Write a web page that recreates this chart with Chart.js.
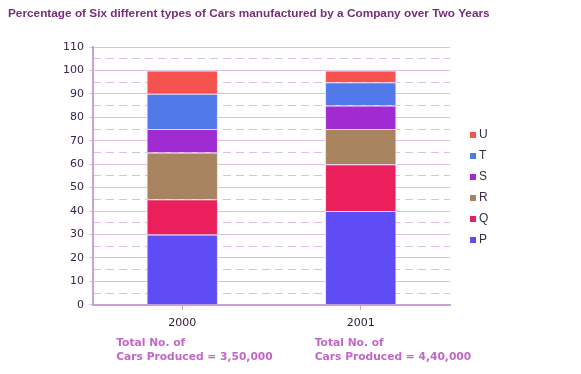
<!DOCTYPE html>
<html lang="en">
<head>
    <meta charset="UTF-8">
    <script src="https://cdn.jsdelivr.net/npm/chart.js"></script>
    <title>Cars manufactured</title>
    <style>
        body { margin: 0; background: #fff; }
        #wrap { width: 581px; height: 374px; }
    </style>
</head>
<body>
    <div id="wrap">
        <canvas id="cars"></canvas>
    </div>
    <script>
        // years on the x axis
        const years = ['2000', '2001'];
        // percentage share per car type, bottom to top
        const typeP = [30, 40];
        const typeQ = [15, 20];
        const typeR = [20, 15];
        const typeS = [10, 10];
        const typeT = [15, 10];
        const typeU = [10, 5];
        const totals = ['3,50,000', '4,40,000'];

        const chartTitle = 'Percentage of Six different types of Cars manufactured by a Company over Two Years';
        const gridPurple = '#dcc0e4';
        const axisPurple = '#c9a0d4';
        const noteShift = [-66, -46];

        // title + notes under each year
        const notesPlugin = {
            id: 'notes',
            afterDraw(chart) {
                const ctx = chart.ctx;
                const x = chart.scales.x;
                ctx.save();
                ctx.fillStyle = '#7a2c7c';
                ctx.font = 'bold 11.8px Arial, "Liberation Sans", sans-serif';
                ctx.textBaseline = 'middle';
                ctx.fillText(chartTitle, 8, 14);

                ctx.fillStyle = '#c466c8';
                ctx.font = 'bold 10.7px "DejaVu Sans", Verdana, sans-serif';
                years.forEach(function(y, i) {
                    const cx = x.getPixelForValue(i) + noteShift[i];
                    ctx.fillText('Total No. of', cx, 343);
                    ctx.fillText('Cars Produced = ' + totals[i], cx, 357);
                });
                ctx.restore();
            }
        };

        // legend on the right, top item = last dataset
        const legendPlugin = {
            id: 'sideLegend',
            afterDraw(chart) {
                const ctx = chart.ctx;
                const sets = chart.data.datasets.slice().reverse();
                const left = chart.chartArea.right + 20;
                ctx.save();
                ctx.font = '12px Arial, "Liberation Sans", sans-serif';
                ctx.textBaseline = 'middle';
                sets.forEach(function(d, k) {
                    const yy = 135 + k * 21;
                    ctx.fillStyle = d.backgroundColor;
                    ctx.fillRect(left, yy - 3, 6, 6);
                    ctx.fillStyle = '#3a2a44';
                    ctx.fillText(d.label, left + 9, yy);
                });
                ctx.restore();
            }
        };

        function ds(label, data, color) {
            return {
                label: label,
                data: data,
                backgroundColor: color,
                borderColor: '#f6d8ee',
                borderWidth: 1,
                categoryPercentage: 0.8,
                barPercentage: 0.5
            };
        }

        new Chart(document.getElementById('cars'), {
            type: 'bar',
            data: {
                labels: years,
                datasets: [
                    ds('P', typeP, '#5f4cf5'),
                    ds('Q', typeQ, '#ea1f5c'),
                    ds('R', typeR, '#a8835f'),
                    ds('S', typeS, '#a12bd2'),
                    ds('T', typeT, '#5179ea'),
                    ds('U', typeU, '#f65250')
                ]
            },
            options: {
                responsive: true,
                maintainAspectRatio: false,
                animation: false,
                layout: { padding: { left: 8, right: 131, top: 47, bottom: 37 } },
                plugins: {
                    legend: { display: false },
                    tooltip: { enabled: false }
                },
                scales: {
                    x: {
                        stacked: true,
                        grid: { display: true, offset: false, drawOnChartArea: false, tickLength: 5, color: axisPurple },
                        border: { color: axisPurple, width: 2 },
                        ticks: {
                            color: '#2a1a30',
                            font: { family: '"DejaVu Sans", Verdana, sans-serif', size: 11 },
                            padding: 7
                        }
                    },
                    y: {
                        stacked: true,
                        min: 0,
                        max: 110,
                        afterFit: function(s) { s.width = 85; },
                        ticks: {
                            stepSize: 10,
                            color: '#3a2448',
                            font: { family: '"DejaVu Sans", Verdana, sans-serif', size: 11 },
                            padding: 5
                        },
                        grid: { color: gridPurple, tickLength: 4 },
                        border: { color: axisPurple, width: 2 }
                    },
                    y2: {
                        position: 'left',
                        min: 0,
                        max: 110,
                        display: true,
                        afterFit: function(s) { s.width = 0; },
                        ticks: { stepSize: 5, display: false },
                        grid: {
                            drawTicks: false,
                            color: function(c) {
                                return c.tick && c.tick.value % 10 === 5 ? gridPurple : 'rgba(0,0,0,0)';
                            }
                        },
                        border: { display: false, dash: [8, 5] }
                    }
                }
            },
            plugins: [notesPlugin, legendPlugin]
        });
    </script>
</body>
</html>
